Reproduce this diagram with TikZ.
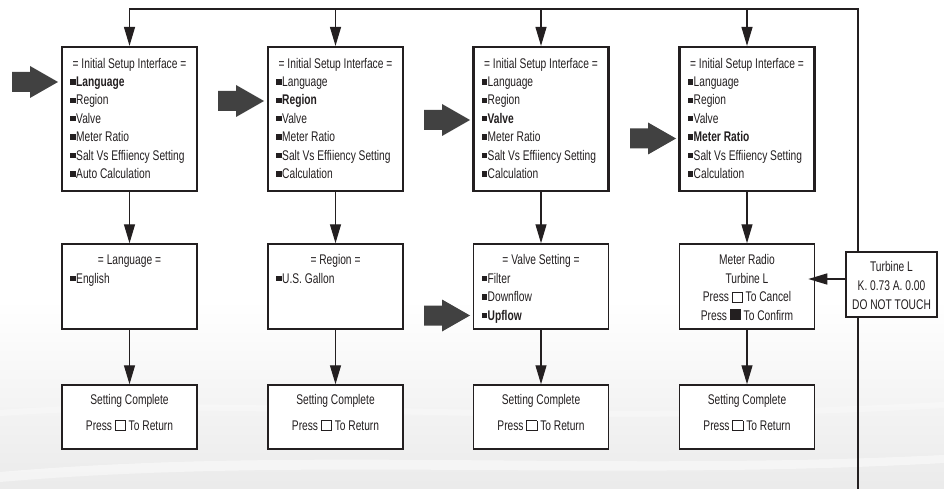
\documentclass[tikz,border=0pt]{standalone}
\usepackage{fontspec}
\setmainfont{Liberation Sans}[FakeStretch=0.73]
\usetikzlibrary{arrows.meta}
\definecolor{ink}{HTML}{231F20}
\definecolor{bigarrow}{HTML}{414141}
\newcommand\blt{\rule[2pt]{5.4pt}{5.4pt}\hspace{0.6pt}}
\newcommand\hsq{\raisebox{-0.3pt}{\setlength{\fboxsep}{0pt}\setlength{\fboxrule}{0.9pt}\fbox{\rule{0pt}{9.2pt}\rule{9.2pt}{0pt}}}}
\newcommand\fsq{\rule[-0.3pt]{11pt}{11pt}}
\newcommand\bigarr[2]{\fill[bigarrow] (#1,#2-10) -- (#1+18,#2-10) -- (#1+18,#2-16) -- (#1+46,#2) -- (#1+18,#2+16) -- (#1+18,#2+10) -- (#1,#2+10) -- cycle;}
\begin{document}
\begin{tikzpicture}[x=1pt,y=-1pt,font=\fontsize{14}{16}\selectfont,text=ink,
  topbox/.style={draw=ink,line width=2.2pt,fill=white,inner sep=0,minimum width=135pt,minimum height=144pt},
  midbox/.style={draw=ink,line width=1.5pt,fill=white,inner sep=0,minimum width=135pt,minimum height=85pt},
  botbox/.style={draw=ink,line width=1.5pt,fill=white,inner sep=0,minimum width=135pt,minimum height=64pt},
  turbbox/.style={draw=ink,line width=1.8pt,fill=white,inner sep=0,minimum width=91pt,minimum height=65pt},
  conn/.style={draw=ink,line width=1.3pt,-{Triangle[length=19pt,width=11pt]}},
  item/.style={anchor=base west,inner sep=0},
  ctr/.style={anchor=base,inner sep=0}]
\useasboundingbox (0,0) rectangle (944,489);
\fill[white] (0,0) rectangle (944,489);
% faint background swooshes
\shade[top color=white,bottom color=black!8] (0,300) rectangle (944,489);
\fill[white,opacity=0.45] (0,472) .. controls (300,446) and (600,472) .. (944,455) -- (944,463) .. controls (600,482) and (300,456) .. (0,482) -- cycle;
\fill[white,opacity=0.3] (0,410) .. controls (250,392) and (500,426) .. (944,402) -- (944,408) .. controls (500,432) and (250,398) .. (0,416) -- cycle;

% top screens
\node[topbox] (s1) at (129.5,119) {};
\node[topbox] (s2) at (335.5,119) {};
\node[topbox] (s3) at (541,119) {};
\node[topbox] (s4) at (747,119) {};
% middle screens
\node[midbox] (m1) at (129.5,286.5) {};
\node[midbox] (m2) at (335.5,286.5) {};
\node[midbox] (m3) at (541,286.5) {};
\node[midbox] (m4) at (747,286.5) {};
% bottom screens
\node[botbox] (b1) at (129.5,417) {};
\node[botbox] (b2) at (335.5,417) {};
\node[botbox] (b3) at (541,417) {};
\node[botbox] (b4) at (747,417) {};

% loop line
\coordinate (tr) at (858,9);
\coordinate (br) at (858,489);
\draw[conn] (br) -- (tr) -| (s1.north);
\draw[conn] (s2.north |- tr) -- (s2.north);
\draw[conn] (s3.north |- tr) -- (s3.north);
\draw[conn] (s4.north |- tr) -- (s4.north);

% turbine box
\node[turbbox] (tb) at (891.5,284.5) {};
\draw[conn] ([yshift=5.5pt]tb.west) -- ([xshift=-7pt,yshift=7.5pt]m4.east);

% vertical connectors
\foreach \k in {1,2,3,4} {
  \draw[conn] (s\k.south) -- (m\k.north);
  \draw[conn] (m\k.south) -- (b\k.north);
}

% big arrows
\bigarr{12}{82}
\bigarr{218}{101}
\bigarr{424}{120}
\bigarr{630}{138.5}
\bigarr{424}{315.5}

% top screen texts
\node[ctr] (h1) at (129.5,68.5) {= Initial Setup Interface =};
\node[ctr] (h2) at (335.5,68.5) {= Initial Setup Interface =};
\node[ctr] (h3) at (541,68.5) {= Initial Setup Interface =};
\node[ctr] (h4) at (747,68.5) {= Initial Setup Interface =};
\foreach \t [count=\i] in {{\textbf{Language}},Region,Valve,Meter Ratio,Salt Vs Effiiency Setting,Auto Calculation}
  \node[item] (p\i) at (70,68.2+18.4*\i) {\blt\t};
\foreach \t [count=\i] in {Language,{\textbf{Region}},Valve,Meter Ratio,Salt Vs Effiiency Setting,Calculation}
  \node[item] (q\i) at (276,68.2+18.4*\i) {\blt\t};
\foreach \t [count=\i] in {Language,Region,{\textbf{Valve}},Meter Ratio,Salt Vs Effiiency Setting,Calculation}
  \node[item] (r\i) at (481.5,68.2+18.4*\i) {\blt\t};
\foreach \t [count=\i] in {Language,Region,Valve,{\textbf{Meter Ratio}},Salt Vs Effiiency Setting,Calculation}
  \node[item] (u\i) at (687.5,68.2+18.4*\i) {\blt\t};

% middle texts
\node[ctr] (lh) at (129.5,264) {= Language =};
\node[item] (l1) at (70,283) {\blt English};
\node[ctr] (rh) at (335.5,264) {= Region =};
\node[item] (g1) at (276,283) {\blt U.S. Gallon};
\node[ctr] (vh) at (541,264) {= Valve Setting =};
\node[item] (v1) at (481.5,283) {\blt Filter};
\node[item] (v2) at (481.5,301.5) {\blt Downflow};
\node[item] (v3) at (481.5,320) {\blt\textbf{Upflow}};
\node[ctr] (mr1) at (747,264) {Meter Radio};
\node[ctr] (mr2) at (747,283) {Turbine L};
\node[ctr] (mr3) at (747,301.5) {Press \hsq{} To Cancel};
\node[ctr] (mr4) at (747,320) {Press \fsq{} To Confirm};

% turbine text
\node[ctr] (t1) at (891.5,271) {Turbine L};
\node[ctr] (t2) at (891.5,290) {K. 0.73 A. 0.00};
\node[ctr] (t3) at (891.5,309) {DO NOT TOUCH};

% bottom texts
\foreach \k/\x in {1/129.5,2/335.5,3/541,4/747} {
  \node[ctr] (c\k) at (\x,404) {Setting Complete};
  \node[ctr] (d\k) at (\x,430) {Press \hsq{} To Return};
}
\end{tikzpicture}
\end{document}
